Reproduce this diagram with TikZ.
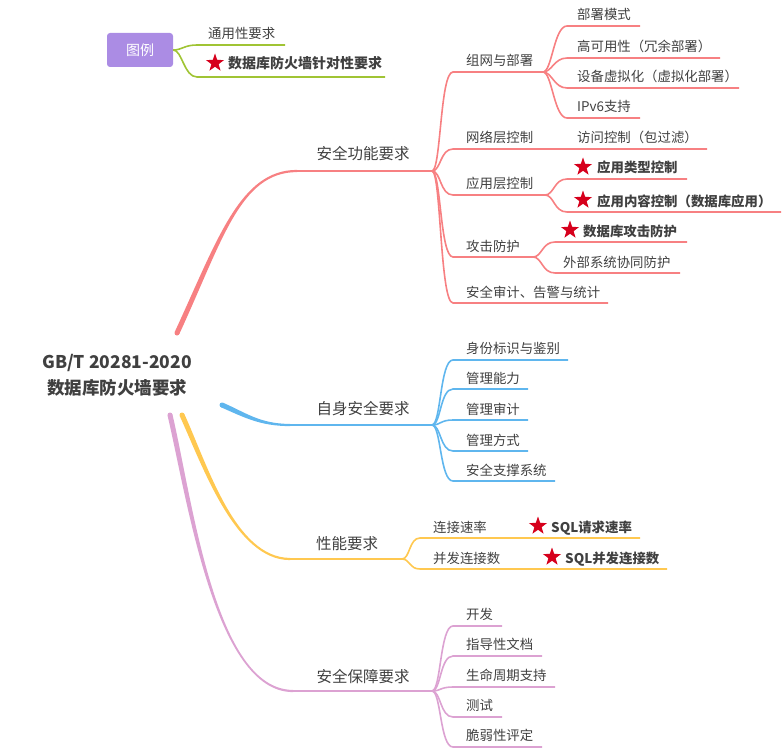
\documentclass[tikz,border=0pt]{standalone}
\usepackage{fontspec}
\setmainfont{Noto Sans CJK SC}
\usetikzlibrary{shapes.geometric}
\definecolor{cred}{RGB}{247,128,130}
\definecolor{cblue}{RGB}{95,182,238}
\definecolor{cyel}{RGB}{255,200,80}
\definecolor{cpink}{RGB}{220,162,210}
\definecolor{cgreen}{RGB}{160,196,52}
\definecolor{cpurple}{RGB}{171,140,228}
\definecolor{cstar}{RGB}{214,0,28}
\definecolor{tc}{RGB}{64,64,64}
\tikzset{
  t/.style={font=\fontsize{13.4}{16}\selectfont, text=tc, inner sep=0, anchor=base west},
  tb/.style={font=\fontsize{13.4}{16}\selectfont\bfseries, text=tc, inner sep=0, anchor=base west},
  lone/.style={font=\fontsize{15.5}{18}\selectfont, text=tc, inner sep=0, anchor=base},
  rl/.style={draw=cred, line width=1.6},
  bl/.style={draw=cblue, line width=1.6},
  yl/.style={draw=cyel, line width=1.6},
  pl/.style={draw=cpink, line width=1.6},
  gl/.style={draw=cgreen, line width=1.6},
  starnode/.style={star, star points=5, star point ratio=2.5, fill=cstar, minimum size=19, inner sep=0},
}
\begin{document}
\begin{tikzpicture}[x=1pt,y=-1pt]
\useasboundingbox (0,0) rectangle (782,749);

% ---------- legend ----------
\node[fill=cpurple, rounded corners=3, minimum width=66, minimum height=34, inner sep=0,
      text=white, font=\fontsize{14}{16}\selectfont] (legend) at (140,50) {图例};
\coordinate (g1s) at (197,45); \coordinate (g1e) at (285,45);
\coordinate (g2s) at (197,77); \coordinate (g2e) at (385,77);
\draw[gl] (legend.east) .. controls +(9,0) and +(-13,0) .. (g1s) -- (g1e);
\draw[gl] (legend.east) .. controls +(9,0) and +(-13,0) .. (g2s) -- (g2e);
\node[t] (g1t) at (208,39) {通用性要求};
\node[starnode] (g2star) at (215,63) {};
\node[tb, font=\fontsize{14}{16}\selectfont\bfseries] (g2t) at (228,69) {数据库防火墙针对性要求};

% ---------- root ----------
\node[align=center, text=tc, inner sep=0, font=\fontsize{17.5}{26}\selectfont\bfseries] (root) at (117,375)
  {GB/T 20281-2020\\数据库防火墙要求};

% ---------- main branches (tapered) ----------
\coordinate (sR) at (177,333); \coordinate (eR) at (297,171); \coordinate (hR) at (432,171);
\fill[cred] (179.27,334.05) .. controls (222.27,241.05) and (240,172.1) .. (297,172.1)
  -- (297,169.9) .. controls (240,169.9) and (217.73,238.95) .. (174.73,331.95) -- cycle;
\fill[cred] (sR) circle (2.5);
\draw[rl] (eR) -- (hR);

\coordinate (sB) at (222,405); \coordinate (eB) at (290,425); \coordinate (hB) at (432,425);
\fill[cblue] (221,407.29) .. controls (244,417.29) and (260,426.1) .. (290,426.1)
  -- (290,423.9) .. controls (260,423.9) and (246,412.71) .. (223,402.71) -- cycle;
\fill[cblue] (sB) circle (2.5);
\draw[bl] (eB) -- (hB);

\coordinate (sY) at (182,415); \coordinate (eY) at (290,559); \coordinate (hY) at (402,559);
\fill[cyel] (179.73,416.05) .. controls (202.73,466.05) and (235,560.1) .. (290,560.1)
  -- (290,557.9) .. controls (235,557.9) and (207.27,463.95) .. (184.27,413.95) -- cycle;
\fill[cyel] (sY) circle (2.5);
\draw[yl] (eY) -- (hY);

\coordinate (sP) at (170,415); \coordinate (eP) at (293,691); \coordinate (hP) at (432,691);
\fill[cpink] (167.56,415.57) .. controls (187.56,500.57) and (215,692.1) .. (293,692.1)
  -- (293,689.9) .. controls (215,689.9) and (192.44,499.43) .. (172.44,414.43) -- cycle;
\fill[cpink] (sP) circle (2.5);
\draw[pl] (eP) -- (hP);

\node[lone] (nR) at (363,160) {安全功能要求};
\node[lone] (nB) at (363,414) {自身安全要求};
\node[lone] (nY) at (347,549) {性能要求};
\node[lone] (nP) at (363,682) {安全保障要求};

% ---------- red subtree ----------
\coordinate (a1s) at (453,72);  \coordinate (a1e) at (543,72);
\coordinate (a2s) at (453,149); \coordinate (a2e) at (707,149);
\coordinate (a3s) at (453,195); \coordinate (a3e) at (545,195);
\coordinate (a4s) at (453,257); \coordinate (a4e) at (533,257);
\coordinate (a5s) at (453,303); \coordinate (a5e) at (608,303);
\foreach \k in {1,...,5}{
  \draw[rl] (hR) .. controls +(9,0) and +(-13,0) .. (a\k s) -- (a\k e);
}
\node[t] (a1t) at (466,66) {组网与部署};
\node[t] (a2t) at (466,143) {网络层控制};
\node[t] (a3t) at (466,189) {应用层控制};
\node[t] (a4t) at (466,251) {攻击防护};
\node[t] (a5t) at (466,297) {安全审计、告警与统计};

\coordinate (b1s) at (567,26);  \coordinate (b1e) at (640,26);
\coordinate (b2s) at (567,58);  \coordinate (b2e) at (720,58);
\coordinate (b3s) at (567,88);  \coordinate (b3e) at (739,88);
\coordinate (b4s) at (567,118); \coordinate (b4e) at (640,118);
\foreach \k in {1,...,4}{
  \draw[rl] (a1e) .. controls +(9,0) and +(-13,0) .. (b\k s) -- (b\k e);
}
\node[t] (b1t) at (577,20) {部署模式};
\node[t] (b2t) at (577,52) {高可用性（冗余部署）};
\node[t] (b3t) at (577,82) {设备虚拟化（虚拟化部署）};
\node[t] (b4t) at (577,112) {IPv6支持};
\node[t] (c1t) at (577,143) {访问控制（包过滤）};

\coordinate (d1s) at (567,179); \coordinate (d1e) at (687,179);
\coordinate (d2s) at (567,212); \coordinate (d2e) at (781,212);
\foreach \k in {1,2}{
  \draw[rl] (a3e) .. controls +(9,0) and +(-13,0) .. (d\k s) -- (d\k e);
}
\node[starnode] (d1star) at (583,167) {};
\node[tb] (d1t) at (597,173) {应用类型控制};
\node[starnode] (d2star) at (583,200) {};
\node[tb] (d2t) at (597,206) {应用内容控制（数据库应用）};

\coordinate (e1s) at (555,242); \coordinate (e1e) at (687,242);
\coordinate (e2s) at (555,273); \coordinate (e2e) at (680,273);
\foreach \k in {1,2}{
  \draw[rl] (a4e) .. controls +(9,0) and +(-13,0) .. (e\k s) -- (e\k e);
}
\node[starnode] (e1star) at (570,230) {};
\node[tb] (e1t) at (583,236) {数据库攻击防护};
\node[t] (e2t) at (563,267) {外部系统协同防护};

% ---------- blue subtree ----------
\coordinate (f1s) at (453,360); \coordinate (f1e) at (568,360);
\coordinate (f2s) at (453,389); \coordinate (f2e) at (528,389);
\coordinate (f3s) at (453,420); \coordinate (f3e) at (528,420);
\coordinate (f4s) at (453,451); \coordinate (f4e) at (528,451);
\coordinate (f5s) at (453,481); \coordinate (f5e) at (555,481);
\foreach \k in {1,...,5}{
  \draw[bl] (hB) .. controls +(9,0) and +(-13,0) .. (f\k s) -- (f\k e);
}
\node[t] (f1t) at (466,353) {身份标识与鉴别};
\node[t] (f2t) at (466,383) {管理能力};
\node[t] (f3t) at (466,414) {管理审计};
\node[t] (f4t) at (466,445) {管理方式};
\node[t] (f5t) at (466,475) {安全支撑系统};

% ---------- yellow subtree ----------
\coordinate (y1s) at (420,538); \coordinate (y1e) at (640,538);
\coordinate (y2s) at (420,569); \coordinate (y2e) at (667,569);
\foreach \k in {1,2}{
  \draw[yl] (hY) .. controls +(8,0) and +(-11,0) .. (y\k s) -- (y\k e);
}
\node[t] (y1t) at (433,532) {连接速率};
\node[starnode] (y1star) at (538,526) {};
\node[tb] (y1x) at (551,532) {SQL请求速率};
\node[t] (y2t) at (433,563) {并发连接数};
\node[starnode] (y2star) at (552,557) {};
\node[tb] (y2x) at (565,563) {SQL并发连接数};

% ---------- pink subtree ----------
\coordinate (p1s) at (453,626); \coordinate (p1e) at (502,626);
\coordinate (p2s) at (453,656); \coordinate (p2e) at (542,656);
\coordinate (p3s) at (453,687); \coordinate (p3e) at (555,687);
\coordinate (p4s) at (453,717); \coordinate (p4e) at (502,717);
\coordinate (p5s) at (453,747); \coordinate (p5e) at (542,747);
\foreach \k in {1,...,5}{
  \draw[pl] (hP) .. controls +(9,0) and +(-13,0) .. (p\k s) -- (p\k e);
}
\node[t] (p1t) at (466,619) {开发};
\node[t] (p2t) at (466,649) {指导性文档};
\node[t] (p3t) at (466,680) {生命周期支持};
\node[t] (p4t) at (466,710) {测试};
\node[t] (p5t) at (466,740) {脆弱性评定};
\end{tikzpicture}
\end{document}
